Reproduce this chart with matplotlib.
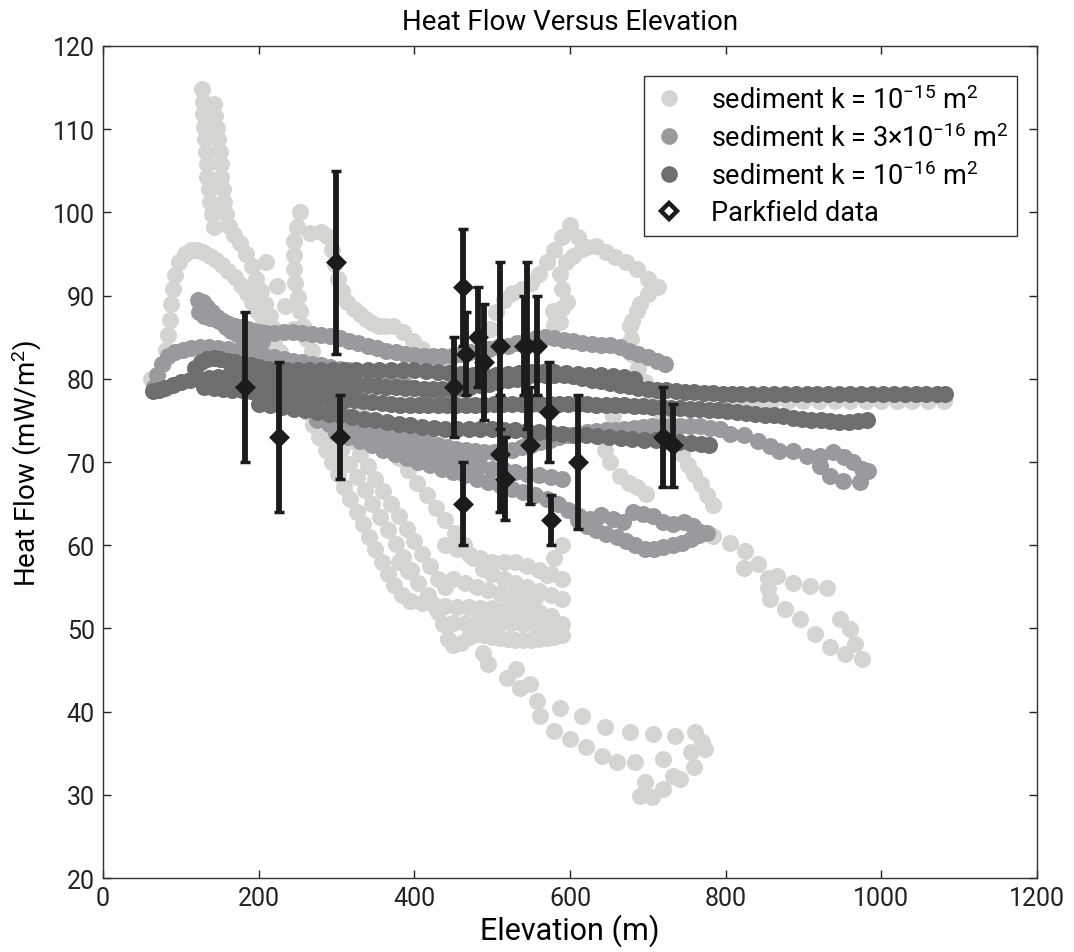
import matplotlib

matplotlib.use("Agg")
import matplotlib.pyplot as plt
from matplotlib.lines import Line2D

plt.rcParams["font.family"] = ["Roboto", "DejaVu Sans"]
plt.rcParams["mathtext.fontset"] = "custom"
plt.rcParams["mathtext.rm"] = "Roboto"
plt.rcParams["mathtext.default"] = "regular"

# ---- model tracks (elevation m, heat flow mW/m2) ----
# sediment k = 1e-15 m2 (light grey)
light_arc = [(62, 80), (70, 80.5), (77, 81.8), (81, 83.5), (84, 85.3), (86, 87.1), (88, 89), (90, 90.8),
             (93, 92.5), (98, 94), (105, 95), (113, 95.5), (121, 95.5), (129, 95.2), (137, 94.8),
             (145, 94.3), (153, 93.7), (161, 93), (169, 92.2), (177, 91.3), (185, 90.3), (192, 89.2),
             (199, 88), (206, 86.8), (213, 85.6), (220, 84.4), (227, 83.2)]
light_spike = [(127, 114.8), (128, 113.3), (129, 111.8), (130, 110.3), (131, 108.8), (132, 107.3),
               (133, 105.8), (134, 104.3), (136, 102.8), (138, 101.3), (140, 99.8), (142, 98.3),
               (142, 113), (144, 111.6), (146, 110.2), (148, 108.8), (150, 107.3), (151, 105.8),
               (152, 104.3), (154, 102.8), (156, 101.3), (158, 99.8), (162, 98.4), (168, 97.3),
               (176, 96.3), (184, 95), (191, 93.5), (197, 92), (203, 90.5), (208, 89), (214, 87.5),
               (220, 86), (209, 94), (223, 91.2), (234, 88.8), (244, 86)]
light_spike2 = [(253, 100), (249, 98.3), (246, 96.6), (245, 94.9), (245, 93.2), (247, 91.5), (250, 89.8),
                (253, 88.1), (257, 86.4), (262, 84.8), (268, 83.3), (274, 81.8),
                (266, 97.5), (280, 97.6), (288, 97.2), (294, 95.5), (298, 93.8), (302, 92), (307, 90.5),
                (314, 89.2), (322, 88.4), (330, 87.8), (338, 87.2), (346, 86.7), (354, 86.4),
                (362, 86.3), (373, 86.3), (385, 85.6), (398, 84.6), (410, 83.6), (422, 82.6),
                (434, 81.6), (446, 80.8), (458, 80.3), (470, 80)]
light_fall = [(230, 82), (238, 80.5), (246, 79), (254, 77.5), (262, 76), (270, 74.5), (278, 73),
              (286, 71.5), (294, 70), (302, 68.5), (310, 67), (318, 65.5), (326, 64), (334, 62.5),
              (342, 61), (350, 59.5), (358, 58), (366, 56.5), (374, 55.2), (384, 54), (395, 53.3),
              (270, 80), (280, 78.5), (290, 77), (300, 75.5), (310, 74), (320, 72.5), (330, 71),
              (340, 69.5), (350, 68), (360, 66.5), (370, 65), (380, 63.5), (390, 62), (400, 60.5),
              (410, 59), (420, 57.5), (430, 56), (440, 55),
              (320, 78), (332, 76.5), (344, 75), (356, 73.5), (368, 72), (380, 70.5), (392, 69),
              (404, 67.5), (416, 66), (428, 64.5), (440, 63), (452, 61.5), (464, 60), (476, 58.5),
              (488, 57.2), (500, 56.5), (515, 56), (530, 55.5), (545, 55), (560, 54.5), (575, 54),
              (590, 53.5),
              (296, 73), (306, 71.4), (316, 69.8), (326, 68.2), (336, 66.6), (346, 65), (356, 63.4),
              (366, 61.8), (376, 60.2), (386, 58.6), (396, 57)]
light_web = [(395, 53.3), (410, 53), (425, 52.8), (440, 52.7), (455, 52.6), (470, 52.6), (485, 52.5),
             (500, 52.4), (515, 52.3), (530, 52.2), (545, 52.1), (560, 52), (575, 51.5), (590, 50.5),
             (380, 58), (392, 56.9), (405, 55.5), (418, 54), (430, 52), (437, 50.5), (443, 48.7),
             (450, 48), (460, 48.3), (470, 49), (480, 49.3), (490, 49.2), (500, 49), (510, 48.8),
             (520, 48.7), (530, 48.6), (540, 48.6), (550, 48.6), (560, 48.7), (570, 48.8), (580, 49),
             (590, 49.2), (440, 60), (455, 59.5), (470, 59), (485, 58.5), (500, 58), (515, 58),
             (530, 58), (545, 57.5), (560, 57), (575, 56.5), (590, 56),
             (450, 50.6), (465, 50.7), (480, 50.8), (495, 50.8), (510, 50.7), (525, 50.6), (540, 50.5),
             (555, 50.4), (570, 50.3), (450, 56), (465, 55.5), (480, 55), (495, 54.6), (510, 54.3),
             (525, 54), (540, 53.8), (555, 53.6), (570, 56.4), (580, 58.5), (590, 60)]
light_tail = [(488, 47), (495, 45.7), (519, 44.1), (531, 45.1), (536, 42.9), (549, 43.3), (557, 41.3),
              (562, 39.5), (579, 37.7), (587, 40.4), (600, 36.7), (615, 39.5), (621, 35.7),
              (641, 34.7), (645, 38.1), (660, 33.9), (677, 37.5), (684, 33.9), (707, 37.3),
              (720, 34.3), (735, 37.1), (761, 37.5), (769, 36.3), (774, 35.5), (756, 35.1),
              (759, 33.3), (733, 32.3), (741, 31.9), (720, 30.7), (696, 31.5), (690, 29.9),
              (705, 29.7)]
light_loop = [(497, 86), (505, 88), (515, 89.5), (526, 90.3), (538, 90.8), (550, 91.5), (560, 92.6),
              (570, 94), (580, 95.5), (590, 97), (600, 98.5), (610, 97), (622, 95.8), (634, 96),
              (646, 95.2), (658, 94.6), (672, 94), (686, 93.2), (700, 92), (713, 91), (700, 90.2),
              (690, 89), (686, 88.2), (680, 87), (677, 86.3), (678, 84.8),
              (578, 88.2), (580, 86.5), (587, 86.8), (590, 88.5), (596, 89.2), (590, 90.8),
              (587, 92.6), (595, 94), (604, 94.8), (615, 95.6)]
light_right = [(680, 83), (688, 81.3), (696, 79.6), (704, 78), (712, 76.4), (720, 75), (728, 73.6),
               (736, 72.3), (744, 71), (752, 69.7), (760, 68.5), (768, 67.3), (776, 66), (784, 64.8),
               (784, 61.1), (806, 60.3), (825, 59.3), (823, 57.3), (842, 57.7), (855, 56.1),
               (866, 56.3), (855, 54.9), (887, 55.5), (908, 55.1), (930, 54.9), (947, 51.1),
               (960, 49.9), (966, 48.1), (975, 46.3), (953, 46.9), (934, 47.8), (915, 49.3),
               (896, 51.1), (876, 52.3), (857, 53.5), (655, 75.5), (648, 73.5), (645, 71.5),
               (652, 70), (664, 68.3), (676, 67.5), (686, 67), (698, 66.2)]
light_flat = [(800, 77.3), (820, 77.3), (840, 77.3), (860, 77.3), (880, 77.3), (900, 77.3),
              (920, 77.3), (940, 77.3), (960, 77.3), (980, 77.3), (1000, 77.3), (1020, 77.3),
              (1040, 77.3), (1060, 77.3), (1080, 77.3)]

# sediment k = 3e-16 m2 (medium grey)
medium_top = [(122, 89.5), (128, 89.2), (134, 88.6), (140, 88), (146, 87.4), (152, 86.8), (158, 86.2),
              (165, 85.8), (172, 85.4), (180, 85.1), (188, 84.8), (196, 84.6), (204, 84.5),
              (123, 88), (130, 87.6), (138, 87.3), (146, 87.1), (154, 86.9), (162, 86.6), (170, 86.4),
              (178, 86.2), (186, 86), (194, 85.8), (202, 85.6), (210, 85.5), (220, 85.5), (232, 85.6),
              (244, 85.6), (256, 85.5), (268, 85.4), (280, 85.3), (292, 85.1), (304, 84.9),
              (316, 84.6), (328, 84.3), (340, 84), (352, 83.7), (364, 83.4), (376, 83.2), (388, 83),
              (400, 82.9), (412, 82.8), (424, 82.7), (436, 82.7), (448, 82.8), (460, 83), (472, 83.2),
              (484, 83.4), (496, 83.6), (508, 83.8), (520, 84), (532, 84.3), (544, 84.6), (556, 84.9),
              (568, 85), (580, 84.9), (592, 84.7), (604, 84.5), (616, 84.3), (628, 84.2), (640, 84.1),
              (652, 84.1), (664, 83.8), (676, 83.4), (688, 83), (700, 82.6), (712, 82.2), (722, 81.8)]
medium_mid = [(66, 79), (70, 80.5), (76, 81.8), (84, 82.7), (93, 83.2), (103, 83.5), (113, 83.7),
              (124, 83.8), (136, 83.8), (148, 83.7), (160, 83.6), (172, 83.4), (184, 83.2), (196, 83),
              (208, 82.8), (220, 82.6), (232, 82.4), (244, 82.2), (256, 82), (268, 81.8), (280, 81.6),
              (292, 81.4), (304, 81.2), (316, 81), (328, 80.7), (340, 80.4), (352, 80.1), (364, 79.8),
              (376, 79.5), (388, 79.2), (400, 78.9)]
medium_low = [(250, 77.5), (262, 77.2), (274, 76.9), (286, 76.5), (298, 76.1), (310, 75.7), (322, 75.3),
              (334, 74.9), (346, 74.5), (358, 74.1), (370, 73.7), (382, 73.3), (394, 73), (406, 72.7),
              (418, 72.4), (430, 72.1), (442, 71.8), (454, 71.6), (466, 71.4), (478, 71.3), (490, 71.2),
              (502, 71.2), (514, 71.3), (526, 71.5), (538, 71.8), (550, 72.1), (562, 72.4), (574, 72.7),
              (586, 73), (598, 73.2), (610, 73.4), (622, 73.6), (634, 73.7), (646, 73.8), (658, 73.9),
              (670, 74), (682, 74.1), (694, 74.2), (706, 74.3), (718, 74.3), (730, 74.3), (742, 74.3),
              (754, 74.3), (767, 74.3), (780, 74.1), (793, 74), (806, 73.4), (823, 73.2), (842, 72.5),
              (857, 71.9), (868, 71.3), (887, 71.3), (904, 70.7), (921, 70.7), (938, 71.2), (952, 70.6),
              (964, 70), (975, 69.2), (983, 68.9), (973, 67.6), (951, 67.7), (934, 68.3), (921, 69.5)]
medium_fill = [(275, 75), (290, 74.6), (305, 74.2), (320, 73.8), (335, 73.4), (350, 73), (365, 72.6),
               (380, 72.2), (395, 71.8), (410, 71.4), (425, 71), (440, 70.6), (455, 70.2), (470, 69.8),
               (485, 69.5), (500, 69.2), (515, 69), (530, 68.8), (545, 68.6), (560, 68.4), (575, 68.2),
               (590, 68)]
medium_bottom = [(300, 73.5), (315, 73), (330, 72.5), (345, 72), (360, 71.5), (375, 71), (390, 70.5),
                 (405, 70), (420, 69.6), (435, 69.2), (450, 68.8), (465, 68.4), (480, 68), (495, 67.6),
                 (510, 67.2), (525, 66.8), (540, 66.4), (555, 66), (570, 65.6), (585, 65), (598, 64.2),
                 (612, 63.5), (626, 63.2), (640, 63.6), (655, 63.2), (668, 62.8), (681, 64), (694, 63.8),
                 (707, 63.5), (720, 62.8), (733, 62.6), (746, 62.8), (758, 62.3), (767, 61.6),
                 (610, 63), (622, 62.3), (634, 61.8), (646, 61.3), (660, 61), (672, 60.5), (684, 60),
                 (696, 59.6), (708, 59.6), (720, 59.8), (732, 60), (744, 60.3), (756, 60.8), (766, 61.2),
                 (776, 61.5)]

# sediment k = 1e-16 m2 (dark grey)
dark_top = [(64, 78.5), (72, 78.6), (80, 78.9), (90, 79.3), (100, 79.6), (112, 79.8), (124, 80),
            (136, 80.1), (148, 80.2), (160, 80.3), (172, 80.3), (184, 80.3), (196, 80.2), (208, 80.1),
            (220, 80), (232, 79.9), (244, 79.8), (256, 79.7), (268, 79.6), (280, 79.5), (292, 79.4),
            (304, 79.4), (316, 79.3), (328, 79.2), (340, 79.2), (352, 79.1), (364, 79), (376, 79),
            (388, 78.9), (400, 78.9), (412, 78.8), (424, 78.8), (436, 78.8), (448, 78.8), (460, 78.9),
            (472, 79), (484, 79.2), (496, 79.4), (508, 79.6), (520, 79.8), (532, 80), (544, 80.2),
            (556, 80.4), (568, 80.5), (580, 80.5), (592, 80.4), (604, 80.3), (616, 80.1), (628, 79.9),
            (640, 79.7), (652, 79.5), (664, 79.3), (676, 79.1), (688, 78.9), (700, 78.8), (712, 78.7),
            (724, 78.6), (736, 78.5), (748, 78.4), (760, 78.4), (772, 78.3), (784, 78.3), (796, 78.2),
            (808, 78.2), (820, 78.2), (834, 78.2), (848, 78.2), (862, 78.2), (876, 78.2), (890, 78.2),
            (904, 78.2), (918, 78.2), (932, 78.2), (946, 78.2), (960, 78.2), (974, 78.2), (988, 78.2),
            (1002, 78.2), (1016, 78.2), (1030, 78.2), (1044, 78.2), (1058, 78.2), (1072, 78.2),
            (1082, 78.2)]
dark_upper = [(118, 81.3), (126, 82), (134, 82.4), (142, 82.5), (150, 82.4), (160, 82.2), (170, 82),
              (180, 81.8), (190, 81.6), (200, 81.4), (212, 81.2), (224, 81.1), (236, 81), (250, 81),
              (265, 81), (280, 81), (295, 81), (310, 81), (325, 81), (340, 81), (355, 81), (370, 81),
              (385, 81), (400, 81), (415, 80.9), (430, 80.8), (445, 80.7), (460, 80.6), (475, 80.5),
              (490, 80.5), (505, 80.5), (520, 80.6), (535, 80.7), (550, 80.8), (565, 80.8),
              (580, 80.8), (595, 80.7), (610, 80.6), (625, 80.5), (640, 80.4), (655, 80.3),
              (670, 80.2), (682, 80)]
dark_mid = [(130, 79), (142, 78.9), (154, 78.8), (166, 78.7), (178, 78.6), (190, 78.5), (202, 78.4),
            (214, 78.3), (226, 78.2), (238, 78.1), (250, 78), (262, 77.9), (274, 77.8), (286, 77.7),
            (298, 77.6), (310, 77.5), (322, 77.4), (334, 77.3), (346, 77.2), (358, 77.1), (370, 77),
            (382, 76.9), (394, 76.9), (406, 76.8), (418, 76.8), (430, 76.8), (442, 76.8), (454, 76.8),
            (466, 76.8), (478, 76.8), (490, 76.9), (502, 77), (514, 77), (526, 77), (538, 77), (550, 77),
            (562, 77), (574, 77), (586, 77), (598, 77), (610, 77), (622, 77), (634, 76.9), (646, 76.9),
            (658, 76.8), (670, 76.8), (682, 76.7), (694, 76.7), (706, 76.6), (718, 76.6), (730, 76.5),
            (742, 76.5), (754, 76.4), (766, 76.4), (778, 76.3), (790, 76.2), (802, 76.1), (814, 76),
            (826, 75.9), (838, 75.8), (850, 75.7), (862, 75.6), (874, 75.5), (886, 75.3), (898, 75.2),
            (910, 75.1), (922, 75), (934, 74.9), (946, 74.8), (958, 74.8), (970, 74.9), (982, 75)]
dark_low = [(200, 77), (215, 76.8), (230, 76.6), (245, 76.4), (260, 76.2), (275, 76), (290, 75.8),
            (305, 75.6), (320, 75.4), (335, 75.2), (350, 75), (365, 74.8), (380, 74.6), (395, 74.4),
            (410, 74.2), (425, 74.1), (440, 74), (455, 74), (470, 74), (485, 74), (500, 74),
            (515, 73.9), (530, 73.8), (545, 73.7), (560, 73.6), (575, 73.5), (590, 73.4), (605, 73.3),
            (620, 73.2), (635, 73.1), (650, 73), (665, 72.9), (680, 72.8), (695, 72.7), (710, 72.6),
            (725, 72.5), (740, 72.4), (755, 72.3), (768, 72.2), (778, 72.1)]

# Parkfield measurements
park_elev = [183, 226, 299, 304, 451, 462, 463, 467, 482, 489, 510, 510, 516, 541, 545, 548,
             558, 573, 576, 610, 720, 733]
park_hf = [79, 73, 94, 73, 79, 91, 65, 83, 85, 82, 84, 71, 68, 84, 84, 72, 84, 76, 63, 70, 73, 72]
park_err = [9, 9, 11, 5, 6, 7, 5, 5, 6, 7, 10, 7, 5, 6, 10, 7, 6, 6, 3, 8, 6, 5]

light_color = "#d4d4d1"
medium_color = "#999a9d"
dark_color = "#6d6e70"
dot_size = 150


def unzip(*tracks):
    xs, ys = [], []
    for tr in tracks:
        for x, y in tr:
            xs.append(x)
            ys.append(y)
    return xs, ys


fig = plt.figure(figsize=(10.74, 9.53), dpi=100)
ax = fig.add_axes([0.0959, 0.0776, 0.8696, 0.8731])

lx, ly = unzip(light_arc, light_spike, light_spike2, light_fall, light_web, light_tail,
               light_loop, light_right, light_flat)
mx, my = unzip(medium_top, medium_mid, medium_low, medium_fill, medium_bottom)
dx, dy = unzip(dark_top, dark_upper, dark_mid, dark_low)

ax.scatter(lx, ly, s=dot_size, c=light_color, linewidths=0, zorder=2)
ax.scatter(mx, my, s=dot_size, c=medium_color, linewidths=0, zorder=3)
ax.scatter(dx, dy, s=dot_size, c=dark_color, linewidths=0, zorder=4)

ax.errorbar(park_elev, park_hf, yerr=park_err, fmt="D", color="#1c1a1a", ecolor="#1c1a1a",
            elinewidth=4.2, capsize=3.6, capthick=3.0, ms=8.5, mfc="#1c1a1a", mec="#1c1a1a",
            mew=2.5, zorder=5)

ax.set_xlim(0, 1200)
ax.set_ylim(20, 120)
ax.set_xticks(range(0, 1201, 200))
ax.set_yticks(range(20, 121, 10))
ax.tick_params(direction="in", top=True, right=True, length=6, width=1, labelsize=18,
               colors="#222222", pad=6)
for sp in ax.spines.values():
    sp.set_color("#333333")
    sp.set_linewidth(1.0)

ax.set_title("Heat Flow Versus Elevation", fontsize=20, pad=12)
ax.set_xlabel("Elevation (m)", fontsize=22, labelpad=2)
ax.set_ylabel("Heat Flow (mW/m$^2$)", fontsize=20, labelpad=6)

handles = [
    Line2D([], [], ls="none", marker="o", ms=12, mfc=light_color, mec="none"),
    Line2D([], [], ls="none", marker="o", ms=12, mfc=medium_color, mec="none"),
    Line2D([], [], ls="none", marker="o", ms=12, mfc=dark_color, mec="none"),
    Line2D([], [], ls="none", marker="D", ms=8.5, mfc="white", mec="#1c1a1a", mew=3.2),
]
labels = ["sediment k = 10$^{-15}$ m$^2$", "sediment k = 3\u00d710$^{-16}$ m$^2$",
          "sediment k = 10$^{-16}$ m$^2$", "Parkfield data"]
leg = ax.legend(handles, labels, loc="upper right", bbox_to_anchor=(0.979, 0.964),
                fontsize=19.5, frameon=True, fancybox=False, edgecolor="#333333", framealpha=1,
                borderpad=0.35, labelspacing=0.35, handlelength=1.1, handletextpad=1.0,
                borderaxespad=0.0)
leg.get_frame().set_linewidth(1.0)

fig.savefig("out.png", dpi=100)
